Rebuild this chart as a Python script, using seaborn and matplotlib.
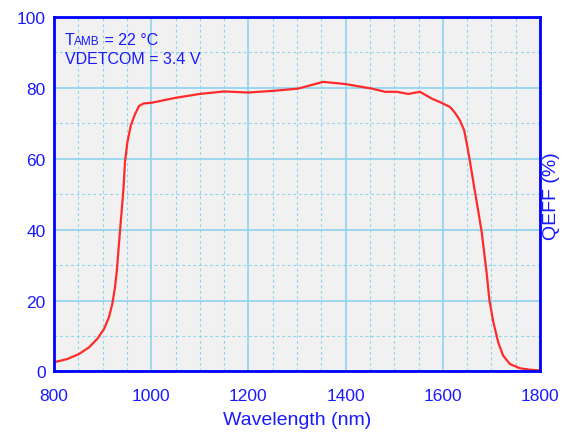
import matplotlib
matplotlib.use("Agg")
import matplotlib.pyplot as plt
from matplotlib.ticker import MultipleLocator
import pandas as pd
import seaborn as sns

# Curve
wavelength = [800, 827, 851, 872, 889, 903, 913, 920, 925, 929, 936, 943, 946,
              951, 958, 967, 975, 984, 1000, 1018, 1050, 1100, 1150, 1200,
              1254, 1302, 1354, 1399, 1454, 1481, 1505, 1529, 1553, 1577, 1594,
              1615, 1625, 1635, 1644, 1650, 1656, 1665, 1672, 1680, 1690, 1696,
              1704, 1714, 1724, 1738, 1759, 1779, 1800]
qeff = [2.6, 3.5, 4.9, 6.8, 9.2, 12.0, 15.3, 19.1, 23.3, 28.0, 40.0, 51.6, 59.1,
        64.7, 69.4, 72.7, 74.9, 75.6, 75.8, 76.3, 77.2, 78.3, 79.0, 78.7,
        79.2, 79.8, 81.7, 81.1, 79.8, 78.9, 78.9, 78.3, 78.9, 77.0, 76.0,
        74.6, 73.0, 70.9, 68.0, 63.8, 59.1, 51.6, 46.0, 39.3, 28.0, 20.0,
        13.9, 8.2, 4.5, 2.1, 0.9, 0.5, 0.3]
x_ticks = [800, 1000, 1200, 1400, 1600, 1800]
y_ticks = [0, 20, 40, 60, 80, 100]

df = pd.DataFrame({"wavelength": wavelength, "qeff": qeff})

sns.set_style("white")
plt.rcParams["font.family"] = ["Liberation Sans", "DejaVu Sans"]

blue = "#1a1aff"
grid_col = "#8dd4ef"

fig = plt.figure(figsize=(5.62, 4.35), dpi=100)
ax = fig.add_axes([0.0961, 0.1437, 0.8648, 0.8149])
ax.set_facecolor("#f1f1f1")

sns.lineplot(x="wavelength", y="qeff", data=df, ax=ax, color="#ff2a2a",
             linewidth=1.6)

ax.set_xlim(800, 1800)
ax.set_ylim(0, 100)
ax.set_xticks(x_ticks)
ax.set_yticks(y_ticks)
ax.xaxis.set_minor_locator(MultipleLocator(50))
ax.yaxis.set_minor_locator(MultipleLocator(10))
ax.grid(which="major", color=grid_col, linewidth=1.2, linestyle="-")
ax.grid(which="minor", color=grid_col, linewidth=0.8, linestyle=(0, (2.5, 2.5)))
ax.set_axisbelow(True)

for s in ax.spines.values():
    s.set_color("#0000ff")
    s.set_linewidth(2)

ax.tick_params(axis="both", which="both", length=0, labelsize=12.5, labelcolor=blue)
ax.tick_params(axis="x", pad=12)
ax.tick_params(axis="y", pad=6)

ax.set_xlabel("Wavelength (nm)", fontsize=14, color=blue, labelpad=6)
ax.set_ylabel("")
fig.text(0.982, 0.55, "QEFF (%)", rotation=90, fontsize=14, color=blue,
         ha="center", va="center")

# Condition annotations
t1 = ax.text(0.022, 0.925, "T", transform=ax.transAxes, fontsize=11.5,
             color=blue, va="baseline")
t2 = ax.annotate("AMB", xy=(1, 0), xycoords=t1, fontsize=8.5, color=blue,
                 va="bottom")
ax.annotate(" = 22 \u00b0C", xy=(1, 0), xycoords=t2, fontsize=11.5, color=blue,
            va="bottom")
ax.text(0.022, 0.87, "VDETCOM = 3.4 V", transform=ax.transAxes, fontsize=11.5,
        color=blue, va="baseline")

plt.savefig("out.png", dpi=100)
